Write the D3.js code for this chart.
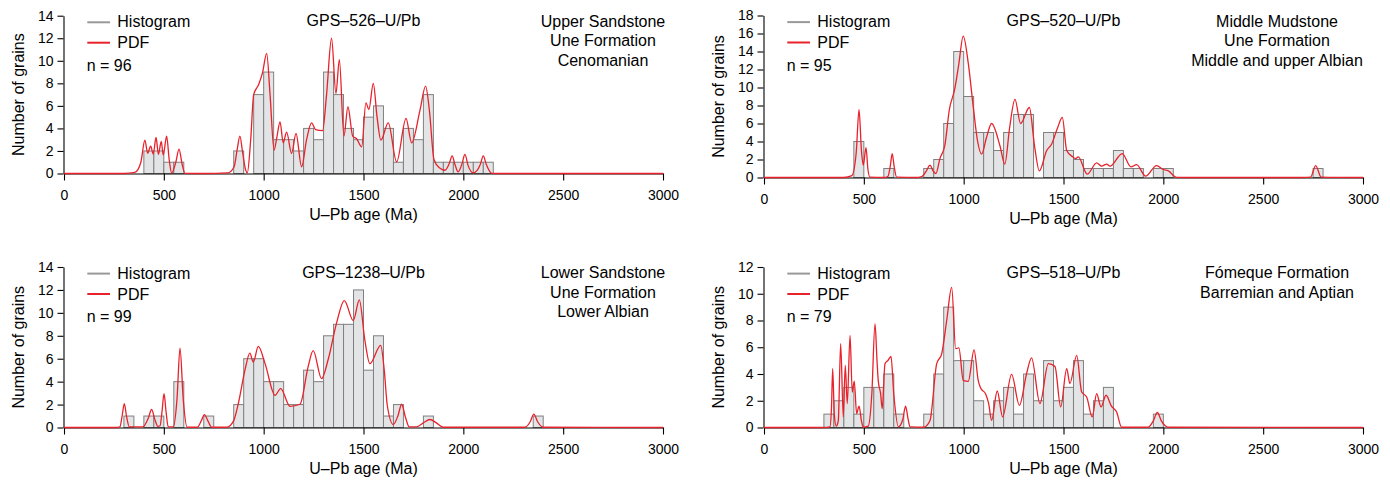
<!DOCTYPE html>
<html><head><meta charset="utf-8">
<script src="https://cdn.jsdelivr.net/npm/d3@7"></script>
<style>body{margin:0;background:#fff}</style>
</head><body>
<svg id="c" width="1390" height="483"></svg>
<script>
// ---------- DATA ----------
const xTickValues = [0, 500, 1000, 1500, 2000, 2500, 3000];
const binWidth = 50;
const legendLabels = ["Histogram", "PDF"];
const xAxisTitle = "U–Pb age (Ma)";
const yAxisTitle = "Number of grains";

// GPS-526
const title526 = "GPS–526–U/Pb";
const n526 = 96;
const notes526 = ["Upper Sandstone", "Une Formation", "Cenomanian"];
const yTicks526 = [0, 2, 4, 6, 8, 10, 12, 14];
const bins526 = [400, 450, 500, 550, 850, 950, 1000, 1050, 1100, 1150, 1200, 1250, 1300, 1350, 1400, 1450, 1500, 1550, 1600, 1650, 1700, 1750, 1800, 1850, 1900, 1950, 2000, 2050, 2100];
const counts526 = [2, 2, 1, 1, 2, 7, 9, 3, 3, 2, 4, 3, 9, 7, 4, 3, 5, 6, 4, 1, 4, 3, 7, 1, 1, 1, 1, 1, 1];
const pdf526 = [[0,0],[300,0],[355,0.1],[385,1.0],[405,2.96],[419,1.8],[434,2.42],[447,1.72],[461,3.2],[473,1.7],[487,2.84],[497,1.64],[514,3.31],[527,1.2],[539,0.05],[560,1.0],[576,2.16],[592,0.8],[606,0.02],[700,0],[820,0.05],[852,0.6],[868,2.2],[881,3.31],[895,1.8],[910,0.3],[918,0.05],[935,3.0],[950,7.0],[975,7.9],[995,9.0],[1015,10.66],[1032,7.0],[1052,2.07],[1066,3.2],[1082,4.58],[1098,2.72],[1115,3.67],[1140,1.78],[1162,3.55],[1190,0.59],[1215,3.0],[1240,4.5],[1260,3.9],[1295,3.8],[1315,7.0],[1340,12.0],[1362,7.1],[1379,10.1],[1402,3.31],[1422,5.92],[1446,3.31],[1465,3.1],[1491,2.37],[1512,6.27],[1527,5.68],[1549,8.0],[1568,5.0],[1587,2.96],[1624,4.5],[1666,1.03],[1713,4.88],[1741,2.72],[1783,5.62],[1811,7.75],[1830,5.6],[1853,1.24],[1880,0.5],[1908,0.29],[1930,0.9],[1944,1.56],[1958,0.8],[1974,0.14],[1994,0.9],[2008,1.69],[2024,0.7],[2050,0.05],[2085,0.8],[2100,1.56],[2115,0.8],[2142,0.02],[2200,0],[3000,0]];

// GPS-520
const title520 = "GPS–520–U/Pb";
const n520 = 95;
const notes520 = ["Middle Mudstone", "Une Formation", "Middle and upper Albian"];
const yTicks520 = [0, 2, 4, 6, 8, 10, 12, 14, 16, 18];
const bins520 = [450, 600, 800, 850, 900, 950, 1000, 1050, 1100, 1150, 1200, 1250, 1300, 1400, 1450, 1500, 1550, 1600, 1650, 1700, 1750, 1800, 1850, 1950, 2000, 2750];
const counts520 = [4, 1, 1, 2, 6, 14, 9, 5, 5, 3, 5, 7, 7, 5, 5, 3, 2, 1, 1, 1, 3, 1, 1, 1, 1, 1];
const pdf520 = [[0,0],[400,0],[440,0.2],[462,2.8],[476,7.55],[488,3.0],[497,1.37],[511,3.33],[520,1.0],[530,0.05],[600,0],[620,0.1],[632,1.2],[642,2.66],[652,1.2],[664,0.05],[760,0],[790,0.1],[815,0.8],[831,1.37],[848,0.7],[861,0.44],[881,2.1],[906,3.6],[928,7.5],[956,9.9],[975,12.5],[998,15.7],[1023,12.7],[1048,7.85],[1070,4.0],[1090,2.59],[1115,4.5],[1140,6.0],[1182,3.5],[1206,1.48],[1230,5.5],[1257,8.67],[1285,6.0],[1329,7.78],[1355,3.5],[1379,0.74],[1416,3.0],[1440,3.7],[1470,5.5],[1494,6.67],[1516,3.0],[1546,2.3],[1560,2.1],[1574,2.3],[1619,0.37],[1666,1.63],[1691,1.26],[1716,1.48],[1733,1.26],[1794,2.66],[1838,1.18],[1866,1.44],[1911,0.15],[1966,1.33],[2000,0.89],[2025,0.74],[2066,0.02],[2150,0],[2700,0],[2738,0.05],[2763,1.33],[2790,0.05],[3000,0]];

// GPS-1238
const title1238 = "GPS–1238–U/Pb";
const n1238 = 99;
const notes1238 = ["Lower Sandstone", "Une Formation", "Lower Albian"];
const yTicks1238 = [0, 2, 4, 6, 8, 10, 12, 14];
const bins1238 = [300, 400, 450, 550, 700, 850, 900, 950, 1000, 1050, 1100, 1150, 1200, 1250, 1300, 1350, 1400, 1450, 1500, 1550, 1600, 1650, 1800, 2350];
const counts1238 = [1, 1, 1, 4, 1, 2, 6, 6, 4, 4, 2, 2, 5, 4, 8, 9, 9, 12, 5, 8, 1, 2, 1, 1];
const pdf1238 = [[0,0],[260,0],[280,0.05],[291,1.0],[302,2.09],[313,1.0],[327,0.05],[395,0.05],[422,0.8],[439,1.57],[455,0.7],[470,0.1],[481,0.15],[491,1.4],[501,2.96],[511,1.4],[522,0.05],[547,0.05],[566,2.5],[581,6.92],[597,2.5],[617,0.02],[668,0.02],[688,0.6],[703,1.13],[720,0.6],[740,0.02],[815,0.02],[850,0.6],[873,2.09],[906,4.98],[931,6.49],[948,5.7],[973,7.07],[1007,5.57],[1057,2.81],[1085,3.39],[1132,1.85],[1182,2.03],[1223,5.33],[1248,6.7],[1290,4.26],[1324,6.0],[1365,9.1],[1404,11.07],[1449,9.33],[1479,11.13],[1507,7.59],[1532,5.57],[1586,7.16],[1604,5.0],[1619,1.94],[1649,0.26],[1672,1.0],[1691,2.03],[1710,0.9],[1729,0.05],[1766,0.05],[1800,0.4],[1833,0.7],[1865,0.4],[1899,0.02],[2308,0.02],[2335,0.5],[2353,1.16],[2372,0.5],[2400,0.02],[3000,0]];

// GPS-518
const title518 = "GPS–518–U/Pb";
const n518 = 79;
const notes518 = ["Fómeque Formation", "Barremian and Aptian"];
const yTicks518 = [0, 2, 4, 6, 8, 10, 12];
const bins518 = [300, 350, 400, 450, 500, 550, 600, 650, 800, 850, 900, 950, 1000, 1050, 1100, 1150, 1200, 1250, 1300, 1350, 1400, 1450, 1500, 1550, 1600, 1650, 1700, 1950];
const counts518 = [1, 2, 3, 1, 3, 3, 4, 1, 1, 4, 9, 5, 5, 2, 1, 2, 3, 1, 4, 2, 5, 2, 3, 5, 1, 2, 3, 1];
const pdf518 = [[0,0],[300,0],[330,0.05],[338,1.5],[344,4.4],[352,1.0],[362,0.1],[372,0.5],[384,6.26],[397,0.79],[407,4.64],[417,1.79],[431,6.88],[442,2.65],[452,3.47],[464,1.04],[476,1.59],[488,0.5],[497,0.02],[522,0.1],[540,2.5],[556,7.75],[566,5.0],[572,3.52],[584,2.53],[592,1.41],[606,4.77],[620,5.0],[636,5.31],[650,2.5],[673,0.05],[695,0.6],[709,1.59],[722,0.6],[731,0.05],[800,0.02],[831,0.5],[865,4.77],[890,5.51],[915,8.0],[940,10.48],[960,5.89],[976,5.96],[998,3.52],[1023,3.45],[1052,5.81],[1073,3.5],[1085,2.95],[1110,2.5],[1125,1.8],[1140,0.54],[1168,2.73],[1195,0.79],[1240,3.97],[1279,1.66],[1315,4.02],[1340,5.21],[1382,1.79],[1424,4.77],[1457,4.57],[1486,1.54],[1516,4.4],[1532,3.28],[1566,5.39],[1591,2.65],[1616,2.28],[1644,0.79],[1666,2.53],[1688,1.54],[1713,2.41],[1740,1.6],[1766,1.16],[1791,0.02],[1924,0.02],[1950,0.5],[1970,1.12],[1990,0.5],[2025,0.02],[3000,0]];

// ---------- LAYOUT ----------
const samples = [
  {title: title526, n: n526, notes: notes526, yTicks: yTicks526, bins: bins526, counts: counts526, pdf: pdf526},
  {title: title520, n: n520, notes: notes520, yTicks: yTicks520, bins: bins520, counts: counts520, pdf: pdf520},
  {title: title1238, n: n1238, notes: notes1238, yTicks: yTicks1238, bins: bins1238, counts: counts1238, pdf: pdf1238},
  {title: title518, n: n518, notes: notes518, yTicks: yTicks518, bins: bins518, counts: counts518, pdf: pdf518}
];
const layouts = [
  {x0: 64, x1: 663, yTop: 15.7, yBot: 173.5, noteX: 603},
  {x0: 764, x1: 1363, yTop: 15.5, yBot: 177.5, noteX: 1277},
  {x0: 64, x1: 663, yTop: 267, yBot: 427.5, noteX: 603},
  {x0: 764, x1: 1363, yTop: 267, yBot: 427.5, noteX: 1277}
];

const FONT = "'Liberation Sans', Arial, Helvetica, sans-serif";
const RED = "#e8222b";
const svg = d3.select("#c");

samples.forEach((s, i) => {
  const L = layouts[i];
  const yMax = s.yTicks[s.yTicks.length - 1];
  const x = d3.scaleLinear().domain([0, 3000]).range([L.x0, L.x1]);
  const y = d3.scaleLinear().domain([0, yMax]).range([L.yBot, L.yTop]);
  const g = svg.append("g");

  // bars
  g.append("g").selectAll("rect").data(s.bins).join("rect")
    .attr("x", d => x(d))
    .attr("width", d => x(d + binWidth) - x(d))
    .attr("y", (d, k) => y(s.counts[k]))
    .attr("height", (d, k) => y(0) - y(s.counts[k]))
    .attr("fill", "#e3e4e5")
    .attr("stroke", "#808080")
    .attr("stroke-width", 1);

  // axes
  const xa = g.append("g").attr("transform", `translate(0,${L.yBot})`)
    .call(d3.axisBottom(x).tickValues(xTickValues).tickFormat(d3.format("d"))
      .tickSize(7).tickPadding(9.5).tickSizeOuter(0));
  const ya = g.append("g").attr("transform", `translate(${L.x0 - 0.5},0)`)
    .call(d3.axisLeft(y).tickValues(s.yTicks).tickSize(6).tickPadding(4).tickSizeOuter(0));
  [xa, ya].forEach(a => {
    a.selectAll("path,line").attr("stroke", "#000").attr("stroke-width", 1.1);
    a.selectAll("text").attr("font-family", FONT).attr("font-size", 14).attr("fill", "#000");
  });

  // pdf
  const line = d3.line().x(d => x(d[0])).y(d => y(d[1])).curve(d3.curveMonotoneX);
  g.append("path").datum(s.pdf).attr("d", line)
    .attr("fill", "none").attr("stroke", RED).attr("stroke-width", 1.3);

  // axis titles
  g.append("text").attr("x", (L.x0 + L.x1) / 2).attr("y", L.yBot + 46)
    .attr("text-anchor", "middle").attr("font-family", FONT).attr("font-size", 16)
    .text(xAxisTitle);
  g.append("text")
    .attr("transform", `translate(${L.x0 - 40.5},${(L.yTop + L.yBot) / 2}) rotate(-90)`)
    .attr("text-anchor", "middle").attr("font-family", FONT).attr("font-size", 16)
    .text(yAxisTitle);

  // legend
  g.append("line").attr("x1", L.x0 + 23.3).attr("x2", L.x0 + 46)
    .attr("y1", L.yTop + 6.6).attr("y2", L.yTop + 6.6)
    .attr("stroke", "#999").attr("stroke-width", 2);
  g.append("line").attr("x1", L.x0 + 23.3).attr("x2", L.x0 + 46)
    .attr("y1", L.yTop + 27).attr("y2", L.yTop + 27)
    .attr("stroke", RED).attr("stroke-width", 2);
  legendLabels.forEach((t, k) => {
    g.append("text").attr("x", L.x0 + 53.3).attr("y", L.yTop + 11.6 + k * 21)
      .attr("font-family", FONT).attr("font-size", 16).text(t);
  });
  g.append("text").attr("x", L.x0 + 22.7).attr("y", L.yTop + 55)
    .attr("font-family", FONT).attr("font-size", 16).text("n = " + s.n);

  // title
  g.append("text").attr("x", (L.x0 + L.x1) / 2).attr("y", L.yTop + 10.5)
    .attr("text-anchor", "middle").attr("font-family", FONT).attr("font-size", 16)
    .text(s.title);

  // notes
  s.notes.forEach((t, k) => {
    g.append("text").attr("x", L.noteX).attr("y", L.yTop + 11 + k * 19.5)
      .attr("text-anchor", "middle").attr("font-family", FONT).attr("font-size", 16)
      .text(t);
  });
});
</script>
</body></html>
